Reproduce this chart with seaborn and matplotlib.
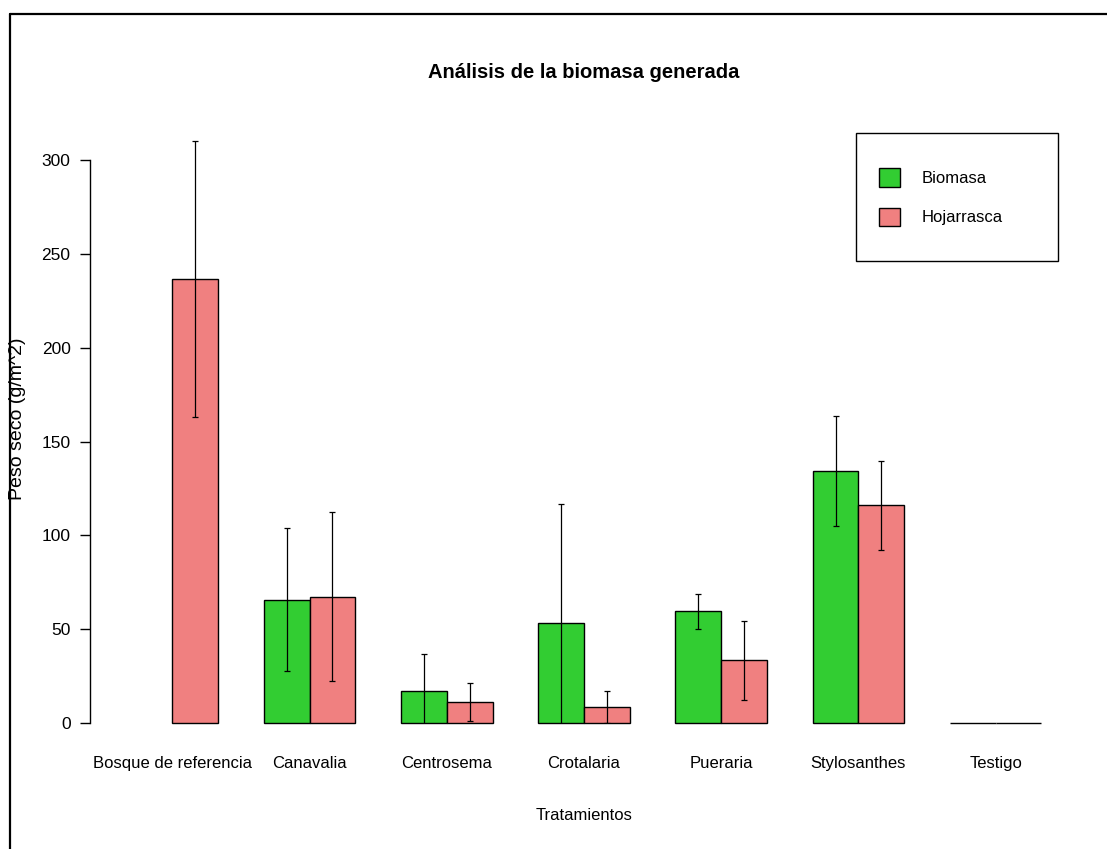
import numpy as np
import pandas as pd
import matplotlib
matplotlib.use("Agg")
import matplotlib.pyplot as plt
from matplotlib.patches import Patch, Rectangle
from matplotlib.lines import Line2D
import seaborn as sns

# Mean dry weight (g/m^2) and standard deviation per treatment
categories = ["Bosque de referencia", "Canavalia", "Centrosema", "Crotalaria",
              "Pueraria", "Stylosanthes", "Testigo"]
biomasa = [np.nan, 65.7, 17.3, 53.4, 59.6, 134.4, 0.0]
biomasa_sd = [np.nan, 38.0, 19.6, 63.4, 9.3, 29.3, 0.0]
hojarrasca = [236.4, 67.4, 11.3, 8.7, 33.4, 116.0, 0.0]
hojarrasca_sd = [73.5, 45.0, 10.2, 8.5, 21.1, 23.8, 0.0]
series = ["Biomasa", "Hojarrasca"]
colors = ["#32CD32", "#F08080"]
yticks = [0, 50, 100, 150, 200, 250, 300]

df = pd.DataFrame({
    "Tratamiento": categories * 2,
    "Tipo": [series[0]] * len(categories) + [series[1]] * len(categories),
    "Peso": biomasa + hojarrasca,
})
sd_lookup = {series[0]: biomasa_sd, series[1]: hojarrasca_sd}
mean_lookup = {series[0]: biomasa, series[1]: hojarrasca}

sns.set_style("white")
plt.rcParams["font.family"] = ["Liberation Sans", "DejaVu Sans"]
plt.rcParams["text.color"] = "black"
plt.rcParams["axes.labelcolor"] = "black"

W, H = 1107, 849
fig = plt.figure(figsize=(W / 100, H / 100), dpi=100)
ax = fig.add_axes([90 / W, (H - 723) / H, 988 / W, 619.3 / H])

sns.barplot(data=df, x="Tratamiento", y="Peso", hue="Tipo",
            order=categories, hue_order=series, palette=colors,
            errorbar=None, width=2 / 3, saturation=1,
            edgecolor="black", linewidth=1.0, legend=False, ax=ax)
for bar in ax.patches:
    bar.set_clip_on(False)

# Standard deviation whiskers on each bar
for container, level in zip(ax.containers, series):
    for bar in container:
        xc = bar.get_x() + bar.get_width() / 2
        i = int(round(xc))
        m = mean_lookup[level][i]
        s = sd_lookup[level][i]
        if np.isnan(m) or s == 0:
            continue
        ax.errorbar(xc, m, yerr=s, fmt="none", ecolor="black",
                    elinewidth=0.9, capsize=2.2, capthick=0.9, zorder=5)

ax.set_xlim(-0.6, 6.6)
ax.set_ylim(0, 330)

# R-style axes: left axis only, spanning the tick range
for side in ["top", "right", "bottom"]:
    ax.spines[side].set_visible(False)
ax.spines["left"].set_bounds(0, 300)
ax.spines["left"].set_color("black")
ax.spines["left"].set_linewidth(1.0)
ax.set_yticks(yticks)
ax.set_yticklabels([str(t) for t in yticks])
ax.tick_params(axis="y", length=7, width=1.0, color="black", pad=7,
               labelsize=12.5, labelcolor="black", left=True)
ax.tick_params(axis="x", length=0, pad=24, labelsize=12, labelcolor="black")

ax.set_xlabel("Tratamientos", fontsize=12, color="black")
ax.xaxis.set_label_coords(0.5, (723 - 815) / 619.3)
ax.xaxis.label.set_va("center")
ax.set_ylabel("Peso seco (g/m^2)", fontsize=14, color="black")
ax.yaxis.set_label_coords((18 - 90) / 988, (723 - 419) / 619.3)
ax.yaxis.label.set_va("center")

fig.text(584 / W, 1 - 72 / H, "Análisis de la biomasa generada",
         ha="center", va="center", fontsize=14.5, fontweight="bold",
         color="black")

# Legend with its own framed box
fig.patches.append(Rectangle((856 / W, 1 - 261 / H), 202 / W, 128 / H,
                             transform=fig.transFigure, fill=False,
                             edgecolor="black", linewidth=1.0))
handles = [Patch(facecolor=c, edgecolor="black", linewidth=1.0, label=s)
           for c, s in zip(colors, series)]
fig.legend(handles=handles, loc="upper left",
           bbox_to_anchor=(879 / W, 1 - 168 / H), frameon=False,
           fontsize=12, handlelength=1.25, handleheight=1.35,
           handletextpad=1.3, labelspacing=1.25, borderpad=0,
           borderaxespad=0, labelcolor="black")

# Device border
fig.lines.append(Line2D([10 / W, 10 / W], [-0.01, 1 - 14 / H],
                        transform=fig.transFigure, color="black", linewidth=1.6))
fig.lines.append(Line2D([10 / W, 1.01], [1 - 14 / H, 1 - 14 / H],
                        transform=fig.transFigure, color="black", linewidth=1.6))

fig.savefig("out.png", dpi=100)
